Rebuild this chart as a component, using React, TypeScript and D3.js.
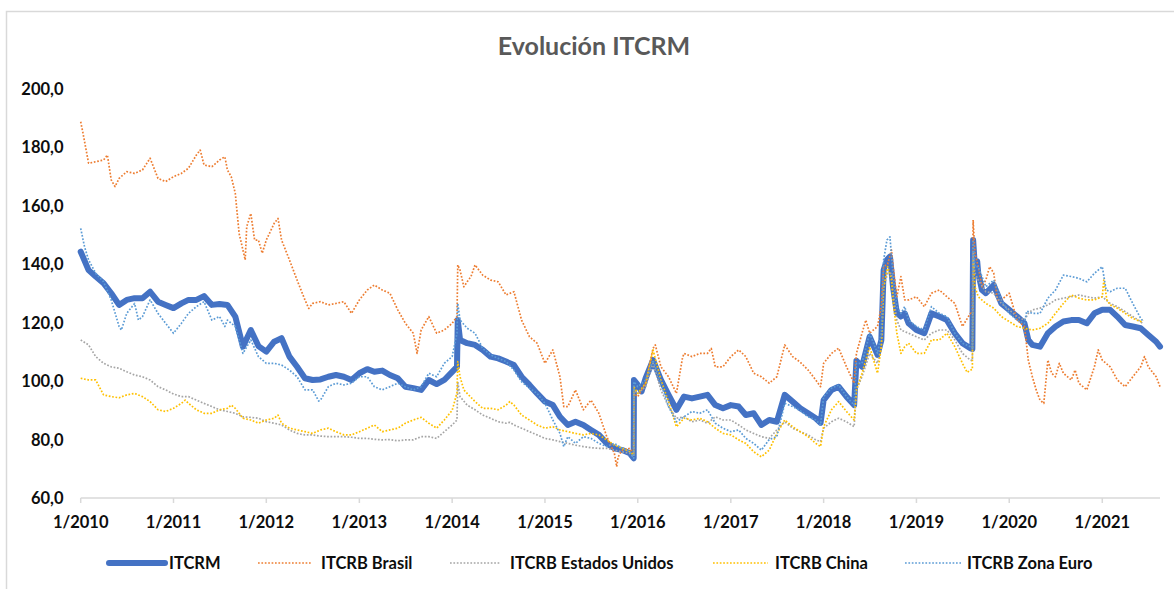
import React from "react";
import * as d3 from "d3";

const W = 1174;
const H = 589;

const title = "Evolución ITCRM";
const yTicks = [60, 80, 100, 120, 140, 160, 180, 200];
const xTickYears = [2010, 2011, 2012, 2013, 2014, 2015, 2016, 2017, 2018, 2019, 2020, 2021];
const seriesNames = ["ITCRM", "ITCRB Brasil", "ITCRB Estados Unidos", "ITCRB China", "ITCRB Zona Euro"];
const seriesColors = ["#4472C4", "#ED7D31", "#A5A5A5", "#FFC000", "#5B9BD5"];

type P = [string, number];

const itcrm: P[] = [
  ["2010-01", 144.3], ["2010-02", 138.0], ["2010-03", 135.8], ["2010-04", 133.5], ["2010-05", 130.1], ["2010-06", 126.1],
  ["2010-07", 127.8], ["2010-08", 128.4], ["2010-09", 128.4], ["2010-10", 130.6], ["2010-11", 127.2], ["2010-12", 126.1],
  ["2011-01", 125.0], ["2011-02", 126.6], ["2011-03", 127.8], ["2011-04", 127.8], ["2011-05", 129.1], ["2011-06", 126.1],
  ["2011-07", 126.4], ["2011-08", 126.1], ["2011-09", 122.1], ["2011-10", 111.8], ["2011-11", 117.5], ["2011-12", 112.0],
  ["2012-01", 110.1], ["2012-02", 113.5], ["2012-03", 114.7], ["2012-04", 108.4], ["2012-05", 104.9], ["2012-06", 101.0],
  ["2012-07", 100.4], ["2012-08", 100.6], ["2012-09", 101.5], ["2012-10", 102.1], ["2012-11", 101.5], ["2012-12", 100.4],
  ["2013-01", 102.7], ["2013-02", 104.1], ["2013-03", 103.2], ["2013-04", 103.6], ["2013-05", 102.1], ["2013-06", 101.0],
  ["2013-07", 98.1], ["2013-08", 97.6], ["2013-09", 97.0], ["2013-10", 100.4], ["2013-11", 99.0], ["2013-12", 100.4],
  ["2014-01", 103.2], ["2014-01-20", 104.9], ["2014-01-23", 120.9], ["2014-02", 114.1], ["2014-03", 113.0], ["2014-04", 112.4],
  ["2014-05", 110.7], ["2014-06", 108.4], ["2014-07", 107.8], ["2014-08", 106.7], ["2014-09", 105.5], ["2014-10", 101.5],
  ["2014-11", 98.7], ["2014-12", 95.8], ["2015-01", 93.0], ["2015-02", 91.8], ["2015-03", 87.8], ["2015-04", 85.0],
  ["2015-05", 86.1], ["2015-06", 85.0], ["2015-07", 83.3], ["2015-08", 81.6], ["2015-09", 78.7], ["2015-10", 77.0],
  ["2015-11", 76.4], ["2015-12", 75.3], ["2015-12-16", 73.6], ["2015-12-17", 100.4], ["2016-01", 98.7], ["2016-01-16", 96.5],
  ["2016-02", 101.0], ["2016-03", 107.2], ["2016-04", 100.4], ["2016-05", 95.3], ["2016-06", 90.2], ["2016-07", 94.7],
  ["2016-08", 94.1], ["2016-09", 94.7], ["2016-10", 95.3], ["2016-11", 91.8], ["2016-12", 90.7], ["2017-01", 91.8],
  ["2017-02", 91.3], ["2017-03", 88.4], ["2017-04", 89.0], ["2017-05", 85.0], ["2017-06", 86.7], ["2017-07", 86.1],
  ["2017-08", 95.3], ["2017-09", 93.0], ["2017-10", 90.7], ["2017-11", 89.0], ["2017-12", 87.3], ["2017-12-20", 85.7],
  ["2018-01", 93.5], ["2018-02", 97.0], ["2018-03", 98.1], ["2018-04", 94.7], ["2018-05", 91.8], ["2018-05-10", 107.0],
  ["2018-06", 104.9], ["2018-07", 115.2], ["2018-08", 109.0], ["2018-08-16", 114.0], ["2018-08-25", 138.0], ["2018-09-07", 141.5],
  ["2018-09-19", 142.6], ["2018-10", 132.3], ["2018-10-16", 123.3], ["2018-11", 122.1], ["2018-11-16", 123.2], ["2018-12", 119.8],
  ["2019-01", 117.5], ["2019-02", 116.4], ["2019-03", 123.2], ["2019-04", 122.1], ["2019-05", 120.9], ["2019-06", 116.4],
  ["2019-07", 113.0], ["2019-08", 111.3], ["2019-08-09", 111.0], ["2019-08-12", 148.3], ["2019-08-19", 139.2], ["2019-08-28", 141.0],
  ["2019-09", 137.0], ["2019-09-16", 131.2], ["2019-10", 130.1], ["2019-11", 132.9], ["2019-12", 126.6], ["2020-01", 124.4],
  ["2020-02", 122.1], ["2020-03", 119.8], ["2020-03-16", 114.1], ["2020-04", 112.4], ["2020-05", 111.8], ["2020-06", 116.4],
  ["2020-07", 118.7], ["2020-08", 120.4], ["2020-09", 120.9], ["2020-10", 120.9], ["2020-11", 119.8], ["2020-12", 123.2],
  ["2021-01", 124.4], ["2021-02", 124.4], ["2021-03", 122.1], ["2021-04", 119.2], ["2021-05", 118.7], ["2021-06", 118.1],
  ["2021-07", 115.8], ["2021-08", 113.5], ["2021-08-16", 111.8],
];

const brasil: P[] = [
  ["2010-01", 188.8], ["2010-01-10", 184.9], ["2010-02", 174.6], ["2010-03", 175.1], ["2010-04", 175.7], ["2010-04-16", 177.4],
  ["2010-05", 168.9], ["2010-05-16", 166.6], ["2010-06", 169.4], ["2010-07", 171.7], ["2010-08", 171.1], ["2010-09", 172.3],
  ["2010-10", 176.3], ["2010-11", 169.4], ["2010-12", 168.3], ["2011-01", 170.0], ["2011-02", 171.1], ["2011-03", 172.9],
  ["2011-04", 177.4], ["2011-04-16", 179.1], ["2011-05", 174.0], ["2011-06", 173.4], ["2011-07", 175.7], ["2011-07-22", 176.8],
  ["2011-08", 172.3], ["2011-08-16", 170.0], ["2011-09", 164.3], ["2011-09-16", 150.6], ["2011-10", 144.9], ["2011-10-10", 141.5],
  ["2011-10-16", 152.9], ["2011-11", 157.4], ["2011-11-16", 148.3], ["2011-12", 148.3], ["2011-12-16", 143.8], ["2012-01", 148.3],
  ["2012-02", 154.0], ["2012-02-16", 155.7], ["2012-03", 148.3], ["2012-04", 141.5], ["2012-05", 134.6], ["2012-06", 127.8],
  ["2012-06-16", 124.9], ["2012-07", 126.6], ["2012-08", 127.2], ["2012-09", 126.1], ["2012-10", 126.6], ["2012-11", 127.2],
  ["2012-12", 123.2], ["2013-01", 127.8], ["2013-02", 131.2], ["2013-03", 132.9], ["2013-04", 131.2], ["2013-05", 130.1],
  ["2013-06", 124.4], ["2013-07", 119.8], ["2013-08", 116.4], ["2013-08-16", 109.5], ["2013-09", 117.5], ["2013-10", 122.1],
  ["2013-11", 116.4], ["2013-12", 117.5], ["2014-01", 119.8], ["2014-01-20", 122.1], ["2014-01-23", 139.8], ["2014-02", 138.0],
  ["2014-02-16", 132.3], ["2014-03", 134.0], ["2014-03-16", 135.8], ["2014-04", 139.8], ["2014-05", 136.3], ["2014-06", 134.6],
  ["2014-07", 134.0], ["2014-08", 129.5], ["2014-09", 130.6], ["2014-10", 120.9], ["2014-11", 115.2], ["2014-12", 113.0],
  ["2015-01", 106.1], ["2015-02", 110.7], ["2015-03", 101.5], ["2015-03-16", 91.3], ["2015-04", 91.3], ["2015-05", 97.0],
  ["2015-06", 90.2], ["2015-07", 93.5], ["2015-08", 89.0], ["2015-09", 81.0], ["2015-10", 75.3], ["2015-10-10", 70.7],
  ["2015-10-16", 74.1], ["2015-11", 76.4], ["2015-12", 77.0], ["2015-12-16", 75.0], ["2015-12-17", 95.8], ["2016-01", 94.7],
  ["2016-02", 99.3], ["2016-03", 111.2], ["2016-03-10", 112.4], ["2016-04", 104.9], ["2016-05", 101.5], ["2016-06", 95.8],
  ["2016-06-25", 108.0], ["2016-07", 109.5], ["2016-08", 108.4], ["2016-09", 109.5], ["2016-10", 109.5], ["2016-10-16", 111.2],
  ["2016-11", 104.9], ["2016-12", 104.9], ["2017-01", 108.4], ["2017-02", 110.7], ["2017-03", 108.4], ["2017-04", 102.7],
  ["2017-05", 101.5], ["2017-06", 99.3], ["2017-07", 101.5], ["2017-08", 112.4], ["2017-09", 108.4], ["2017-10", 106.5],
  ["2017-11", 103.8], ["2017-12", 100.4], ["2017-12-20", 98.1], ["2018-01", 106.1], ["2018-02", 109.5], ["2018-03", 111.3],
  ["2018-04", 104.9], ["2018-05", 99.3], ["2018-05-10", 109.5], ["2018-06", 116.4], ["2018-06-16", 120.9], ["2018-07", 116.4],
  ["2018-08", 118.7], ["2018-08-16", 125.5], ["2018-08-25", 139.2], ["2018-09-10", 140.1], ["2018-09-25", 144.9], ["2018-10", 139.2],
  ["2018-10-16", 128.9], ["2018-11", 135.8], ["2018-11-16", 127.8], ["2018-12", 127.8], ["2019-01", 128.9], ["2019-02", 125.5],
  ["2019-03", 130.1], ["2019-04", 131.2], ["2019-05", 128.9], ["2019-06", 126.6], ["2019-07", 118.7], ["2019-08", 123.2],
  ["2019-08-09", 123.0], ["2019-08-12", 155.2], ["2019-08-19", 143.8], ["2019-09", 139.2], ["2019-09-16", 132.3], ["2019-10", 134.6],
  ["2019-10-16", 139.2], ["2019-11", 137.0], ["2019-11-16", 127.8], ["2019-12", 127.8], ["2020-01", 130.1], ["2020-02", 120.9],
  ["2020-03", 118.7], ["2020-03-16", 107.2], ["2020-04", 101.5], ["2020-04-16", 97.0], ["2020-05", 93.5], ["2020-05-16", 92.4],
  ["2020-06", 107.2], ["2020-06-16", 102.7], ["2020-07", 101.5], ["2020-07-16", 106.1], ["2020-08", 102.7], ["2020-09", 100.4],
  ["2020-09-16", 103.8], ["2020-10", 99.3], ["2020-11", 97.0], ["2020-12", 104.9], ["2020-12-16", 110.7], ["2021-01", 107.2],
  ["2021-02", 104.9], ["2021-03", 100.4], ["2021-04", 98.1], ["2021-05", 101.5], ["2021-06", 104.9], ["2021-06-16", 108.4],
  ["2021-07", 104.9], ["2021-08", 101.5], ["2021-08-16", 98.1],
];

const eeuu: P[] = [
  ["2010-01", 114.1], ["2010-02", 112.4], ["2010-03", 108.4], ["2010-04", 106.1], ["2010-05", 104.9], ["2010-06", 104.4],
  ["2010-07", 103.2], ["2010-08", 102.1], ["2010-09", 101.5], ["2010-10", 100.4], ["2010-11", 98.1], ["2010-12", 97.0],
  ["2011-01", 95.6], ["2011-02", 94.7], ["2011-03", 94.7], ["2011-04", 93.5], ["2011-05", 92.4], ["2011-06", 91.3],
  ["2011-07", 90.2], ["2011-08", 89.6], ["2011-09", 89.0], ["2011-10", 87.8], ["2011-11", 87.6], ["2011-12", 87.3],
  ["2012-01", 86.1], ["2012-02", 85.6], ["2012-03", 85.0], ["2012-04", 83.3], ["2012-05", 82.1], ["2012-06", 81.6],
  ["2012-07", 81.6], ["2012-08", 81.2], ["2012-09", 81.0], ["2012-10", 81.0], ["2012-11", 81.0], ["2012-12", 80.8],
  ["2013-01", 80.4], ["2013-02", 80.4], ["2013-03", 80.1], ["2013-04", 79.9], ["2013-05", 80.0], ["2013-06", 79.6],
  ["2013-07", 79.9], ["2013-08", 79.9], ["2013-09", 81.0], ["2013-10", 81.0], ["2013-11", 80.4], ["2013-12", 82.7],
  ["2014-01", 85.0], ["2014-01-20", 86.7], ["2014-01-23", 99.8], ["2014-02", 94.7], ["2014-03", 91.8], ["2014-04", 90.2],
  ["2014-05", 88.4], ["2014-06", 87.3], ["2014-07", 86.1], ["2014-08", 85.6], ["2014-08-16", 85.9], ["2014-09", 85.0],
  ["2014-10", 83.9], ["2014-11", 82.7], ["2014-12", 81.6], ["2015-01", 80.4], ["2015-02", 79.9], ["2015-03", 79.3],
  ["2015-04", 78.7], ["2015-05", 78.1], ["2015-06", 77.6], ["2015-07", 77.2], ["2015-08", 77.0], ["2015-09", 77.0],
  ["2015-10", 76.4], ["2015-11", 75.8], ["2015-12", 75.3], ["2015-12-16", 74.1], ["2015-12-17", 97.0], ["2016-01", 95.8],
  ["2016-02", 98.1], ["2016-03", 106.1], ["2016-04", 97.0], ["2016-05", 91.3], ["2016-06", 87.3], ["2016-07", 87.8],
  ["2016-08", 86.1], ["2016-09", 86.7], ["2016-10", 85.6], ["2016-11", 87.8], ["2016-12", 86.7], ["2017-01", 86.7],
  ["2017-02", 85.0], ["2017-03", 83.3], ["2017-04", 82.1], ["2017-05", 81.0], ["2017-06", 80.4], ["2017-07", 83.3],
  ["2017-08", 86.1], ["2017-09", 83.9], ["2017-10", 82.7], ["2017-11", 81.6], ["2017-12", 79.9], ["2017-12-20", 79.3],
  ["2018-01", 83.9], ["2018-02", 86.1], ["2018-03", 87.3], ["2018-04", 86.1], ["2018-05", 84.4], ["2018-05-10", 97.0],
  ["2018-06", 101.5], ["2018-07", 109.5], ["2018-08", 106.1], ["2018-08-16", 111.8], ["2018-08-25", 132.3], ["2018-09-10", 136.9],
  ["2018-09-25", 136.9], ["2018-10", 130.1], ["2018-10-16", 120.9], ["2018-11", 117.5], ["2018-12", 116.4], ["2019-01", 115.2],
  ["2019-02", 114.1], ["2019-03", 116.4], ["2019-04", 117.5], ["2019-05", 117.5], ["2019-06", 114.1], ["2019-07", 109.5],
  ["2019-08", 107.2], ["2019-08-09", 107.0], ["2019-08-12", 143.8], ["2019-08-19", 137.0], ["2019-09", 134.6], ["2019-10", 130.6],
  ["2019-11", 130.1], ["2019-12", 126.6], ["2020-01", 124.4], ["2020-02", 122.1], ["2020-03", 120.9], ["2020-03-16", 123.2],
  ["2020-04", 124.4], ["2020-05", 125.0], ["2020-06", 126.1], ["2020-07", 127.8], ["2020-08", 128.4], ["2020-09", 128.9],
  ["2020-10", 129.5], ["2020-11", 128.9], ["2020-12", 128.4], ["2021-01", 128.9], ["2021-02", 126.6], ["2021-03", 125.5],
  ["2021-04", 123.8], ["2021-05", 122.1], ["2021-06", 120.4], ["2021-06-10", 119.5],
];

const china: P[] = [
  ["2010-01", 101.0], ["2010-02", 100.4], ["2010-03", 100.4], ["2010-04", 95.3], ["2010-05", 94.7], ["2010-06", 94.3],
  ["2010-07", 95.3], ["2010-08", 95.8], ["2010-09", 94.7], ["2010-10", 93.0], ["2010-11", 90.2], ["2010-12", 89.6],
  ["2011-01", 90.7], ["2011-02", 92.4], ["2011-02-16", 93.5], ["2011-03", 92.4], ["2011-04", 90.2], ["2011-05", 89.0],
  ["2011-06", 89.0], ["2011-07", 90.2], ["2011-08", 90.7], ["2011-08-16", 91.8], ["2011-09", 90.7], ["2011-10", 87.3],
  ["2011-11", 86.7], ["2011-12", 85.6], ["2012-01", 86.7], ["2012-02", 87.3], ["2012-02-16", 88.4], ["2012-03", 85.6],
  ["2012-04", 83.9], ["2012-05", 83.3], ["2012-06", 82.7], ["2012-07", 82.1], ["2012-08", 83.3], ["2012-09", 83.9],
  ["2012-10", 82.7], ["2012-11", 81.6], ["2012-12", 81.6], ["2013-01", 82.7], ["2013-02", 83.9], ["2013-03", 85.0],
  ["2013-04", 82.7], ["2013-05", 83.3], ["2013-06", 83.9], ["2013-07", 85.6], ["2013-08", 86.7], ["2013-09", 87.6],
  ["2013-10", 85.6], ["2013-11", 83.9], ["2013-12", 86.7], ["2014-01", 90.0], ["2014-01-20", 96.0], ["2014-01-23", 106.7],
  ["2014-02", 101.5], ["2014-02-16", 97.0], ["2014-03", 95.8], ["2014-04", 93.0], ["2014-05", 90.7], ["2014-06", 90.7],
  ["2014-07", 90.2], ["2014-08", 91.8], ["2014-08-16", 93.0], ["2014-09", 91.8], ["2014-10", 88.4], ["2014-11", 86.7],
  ["2014-12", 85.0], ["2015-01", 83.9], ["2015-02", 84.4], ["2015-03", 83.3], ["2015-04", 82.7], ["2015-05", 82.1],
  ["2015-06", 81.6], ["2015-07", 82.1], ["2015-08", 81.6], ["2015-09", 79.9], ["2015-10", 78.1], ["2015-11", 77.0],
  ["2015-12", 75.8], ["2015-12-16", 74.7], ["2015-12-17", 98.1], ["2016-01", 95.8], ["2016-02", 99.3], ["2016-03", 110.7],
  ["2016-04", 100.4], ["2016-05", 93.0], ["2016-06", 84.4], ["2016-07", 87.3], ["2016-08", 86.7], ["2016-09", 87.3],
  ["2016-10", 86.1], ["2016-11", 83.9], ["2016-12", 82.1], ["2017-01", 81.6], ["2017-02", 79.9], ["2017-03", 78.7],
  ["2017-04", 75.8], ["2017-05", 74.1], ["2017-06", 76.4], ["2017-07", 82.1], ["2017-08", 86.7], ["2017-09", 84.4],
  ["2017-10", 82.7], ["2017-11", 81.0], ["2017-12", 78.7], ["2017-12-20", 77.6], ["2018-01", 84.4], ["2018-02", 90.2],
  ["2018-03", 93.0], ["2018-04", 89.6], ["2018-05", 86.7], ["2018-05-10", 97.0], ["2018-06", 102.7], ["2018-07", 111.8],
  ["2018-08", 102.7], ["2018-08-16", 111.8], ["2018-08-25", 132.3], ["2018-09-10", 139.2], ["2018-09-25", 134.6], ["2018-10", 127.8],
  ["2018-10-16", 116.4], ["2018-11", 109.5], ["2018-11-16", 111.8], ["2018-12", 113.0], ["2019-01", 109.5], ["2019-02", 109.5],
  ["2019-03", 114.1], ["2019-04", 114.1], ["2019-05", 116.4], ["2019-06", 111.8], ["2019-07", 106.1], ["2019-07-20", 103.0],
  ["2019-08", 103.8], ["2019-08-09", 104.0], ["2019-08-12", 141.5], ["2019-08-19", 132.3], ["2019-09", 128.9], ["2019-10", 126.6],
  ["2019-11", 125.0], ["2019-12", 122.1], ["2020-01", 120.4], ["2020-02", 118.7], ["2020-03", 118.1], ["2020-04", 117.5],
  ["2020-05", 118.1], ["2020-06", 119.8], ["2020-07", 123.2], ["2020-08", 126.6], ["2020-09", 129.5], ["2020-10", 128.4],
  ["2020-11", 127.8], ["2020-12", 127.8], ["2021-01", 128.9], ["2021-01-07", 134.6], ["2021-01-19", 127.8], ["2021-02", 126.1],
  ["2021-03", 125.0], ["2021-04", 123.2], ["2021-05", 121.5], ["2021-06", 120.4], ["2021-06-10", 121.0],
];

const zonaEuro: P[] = [
  ["2010-01", 152.3], ["2010-01-16", 146.0], ["2010-02", 141.5], ["2010-03", 136.9], ["2010-04", 134.0], ["2010-05", 127.8],
  ["2010-06", 118.7], ["2010-06-10", 117.5], ["2010-07", 123.2], ["2010-08", 126.6], ["2010-08-16", 120.9], ["2010-09", 122.1],
  ["2010-10", 127.8], ["2010-11", 123.2], ["2010-12", 119.8], ["2011-01", 116.4], ["2011-02", 119.8], ["2011-03", 123.2],
  ["2011-04", 125.5], ["2011-05", 127.2], ["2011-06", 120.9], ["2011-07", 122.1], ["2011-07-22", 118.7], ["2011-08", 120.9],
  ["2011-09", 118.7], ["2011-10", 109.5], ["2011-11", 114.1], ["2011-12", 108.4], ["2012-01", 106.1], ["2012-02", 106.1],
  ["2012-03", 105.5], ["2012-04", 103.8], ["2012-05", 101.5], ["2012-06", 97.0], ["2012-07", 97.0], ["2012-07-25", 93.2],
  ["2012-08", 93.5], ["2012-09", 98.1], ["2012-10", 99.3], ["2012-11", 98.7], ["2012-12", 99.3], ["2013-01", 101.5],
  ["2013-02", 101.5], ["2013-03", 98.1], ["2013-04", 97.0], ["2013-05", 98.1], ["2013-06", 99.3], ["2013-07", 98.1],
  ["2013-08", 97.0], ["2013-09", 98.1], ["2013-10", 102.7], ["2013-11", 101.5], ["2013-12", 106.1], ["2014-01", 108.4],
  ["2014-01-20", 116.4], ["2014-01-23", 126.6], ["2014-02", 120.9], ["2014-03", 118.1], ["2014-04", 116.4], ["2014-05", 111.2],
  ["2014-06", 109.0], ["2014-07", 107.8], ["2014-08", 106.7], ["2014-09", 103.8], ["2014-10", 99.8], ["2014-11", 97.6],
  ["2014-12", 95.8], ["2015-01", 92.4], ["2015-02", 86.7], ["2015-03", 82.1], ["2015-03-16", 77.6], ["2015-04", 81.0],
  ["2015-05", 78.7], ["2015-06", 81.0], ["2015-07", 80.4], ["2015-08", 78.7], ["2015-09", 77.6], ["2015-10", 78.7],
  ["2015-11", 77.0], ["2015-12", 75.8], ["2015-12-16", 73.6], ["2015-12-17", 99.8], ["2016-01", 98.1], ["2016-02", 100.4],
  ["2016-03", 107.2], ["2016-04", 99.3], ["2016-05", 91.3], ["2016-06", 86.1], ["2016-07", 87.8], ["2016-08", 89.6],
  ["2016-09", 89.0], ["2016-10", 90.2], ["2016-11", 85.6], ["2016-12", 83.9], ["2017-01", 82.7], ["2017-02", 83.3],
  ["2017-03", 80.4], ["2017-04", 78.7], ["2017-05", 76.4], ["2017-06", 80.0], ["2017-07", 81.0], ["2017-08", 92.4],
  ["2017-09", 91.3], ["2017-10", 89.9], ["2017-11", 87.8], ["2017-12", 86.7], ["2017-12-20", 85.0], ["2018-01", 94.7],
  ["2018-02", 97.6], ["2018-03", 98.7], ["2018-04", 94.7], ["2018-05", 91.8], ["2018-05-10", 106.1], ["2018-06", 106.1],
  ["2018-07", 116.4], ["2018-08", 109.5], ["2018-08-16", 116.4], ["2018-08-25", 141.5], ["2018-09-07", 148.3], ["2018-09-19", 149.4],
  ["2018-10", 135.8], ["2018-10-16", 125.5], ["2018-11", 123.2], ["2018-11-16", 125.5], ["2018-12", 120.9], ["2019-01", 118.7],
  ["2019-02", 117.5], ["2019-03", 125.5], ["2019-04", 123.2], ["2019-05", 122.1], ["2019-06", 116.4], ["2019-07", 113.0],
  ["2019-08", 111.8], ["2019-08-09", 111.5], ["2019-08-12", 148.3], ["2019-08-19", 139.2], ["2019-09", 139.2], ["2019-10", 132.3],
  ["2019-11", 134.6], ["2019-12", 127.8], ["2020-01", 123.2], ["2020-02", 120.9], ["2020-03", 119.8], ["2020-03-10", 124.0],
  ["2020-04", 123.2], ["2020-05", 123.2], ["2020-06", 128.4], ["2020-07", 131.2], ["2020-08", 136.3], ["2020-09", 135.8],
  ["2020-10", 135.2], ["2020-11", 134.0], ["2020-12", 136.9], ["2021-01", 139.2], ["2021-01-16", 131.2], ["2021-02", 130.6],
  ["2021-03", 131.8], ["2021-04", 131.8], ["2021-05", 126.6], ["2021-06", 121.5], ["2021-06-10", 120.5],
];

const allSeries = [itcrm, brasil, eeuu, china, zonaEuro];

const parseDay = d3.timeParse("%Y-%m-%d");
const toDate = (s: string) => parseDay(s.length === 7 ? s + "-01" : s) as Date;

const FONT = "Lato, 'Noto Sans', sans-serif";

export default function App() {
  const left = 80.7;
  const right = 1160;
  const top = 89;
  const bottom = 498;

  const x = d3
    .scaleTime()
    .domain([toDate("2010-01-01"), toDate("2021-08-16")])
    .range([left, right]);
  const y = d3.scaleLinear().domain([60, 200]).range([bottom, top]);

  const line = d3
    .line<P>()
    .x((d) => x(toDate(d[0])))
    .y((d) => y(d[1]))
    .curve(d3.curveLinear);

  const legendItems = [
    { x1: 109, x2: 165, tx: 169 },
    { x1: 258, x2: 311, tx: 321 },
    { x1: 450, x2: 500, tx: 510 },
    { x1: 713, x2: 768, tx: 775 },
    { x1: 905, x2: 961, tx: 967 },
  ];
  const legendY = 563;

  return (
    <svg
      width={W}
      height={H}
      style={{ position: "absolute", left: 0, top: 0, background: "#fff" }}
      fontFamily={FONT}
    >
      <rect x={0} y={0} width={W} height={H} fill="#fff" />
      <rect x={6.5} y={11.5} width={1300} height={700} fill="none" stroke="#d9d9d9" strokeWidth={1.5} />

      <text x={594} y={45} textAnchor="middle" dominantBaseline="central" fontSize={25} fontWeight={700} fill="#595959">
        {title}
      </text>

      {yTicks.map((t) => (
        <text key={t} x={63.5} y={y(t)} textAnchor="end" dominantBaseline="central" fontSize={16.5} fontWeight={700} fill="#0d0d0d">
          {d3.format(".1f")(t).replace(".", ",")}
        </text>
      ))}

      <line x1={left} x2={right} y1={bottom} y2={bottom} stroke="#d9d9d9" strokeWidth={1.5} />
      {xTickYears.map((yr) => {
        const xx = x(toDate(`${yr}-01-01`));
        return (
          <g key={yr}>
            <line x1={xx} x2={xx} y1={bottom} y2={bottom + 5} stroke="#d9d9d9" strokeWidth={1.5} />
            <text x={xx} y={522} textAnchor="middle" dominantBaseline="central" fontSize={16.5} fontWeight={700} fill="#0d0d0d">
              {`1/${yr}`}
            </text>
          </g>
        );
      })}

      {allSeries.map((s, i) => (
        <path
          key={seriesNames[i]}
          d={line(s) || ""}
          fill="none"
          stroke={seriesColors[i]}
          strokeWidth={i === 0 ? 6 : 1.7}
          strokeDasharray={i === 0 ? undefined : "1.7 1.7"}
          strokeLinejoin="round"
          strokeLinecap={i === 0 ? "round" : "butt"}
        />
      ))}

      {legendItems.map((it, i) => (
        <g key={seriesNames[i]}>
          <line
            x1={it.x1}
            x2={it.x2}
            y1={legendY}
            y2={legendY}
            stroke={seriesColors[i]}
            strokeWidth={i === 0 ? 6 : 1.7}
            strokeDasharray={i === 0 ? undefined : "1.7 1.7"}
            strokeLinecap={i === 0 ? "round" : "butt"}
          />
          <text x={it.tx} y={legendY} dominantBaseline="central" fontSize={16.5} fontWeight={700} fill="#0d0d0d">
            {seriesNames[i]}
          </text>
        </g>
      ))}
    </svg>
  );
}
